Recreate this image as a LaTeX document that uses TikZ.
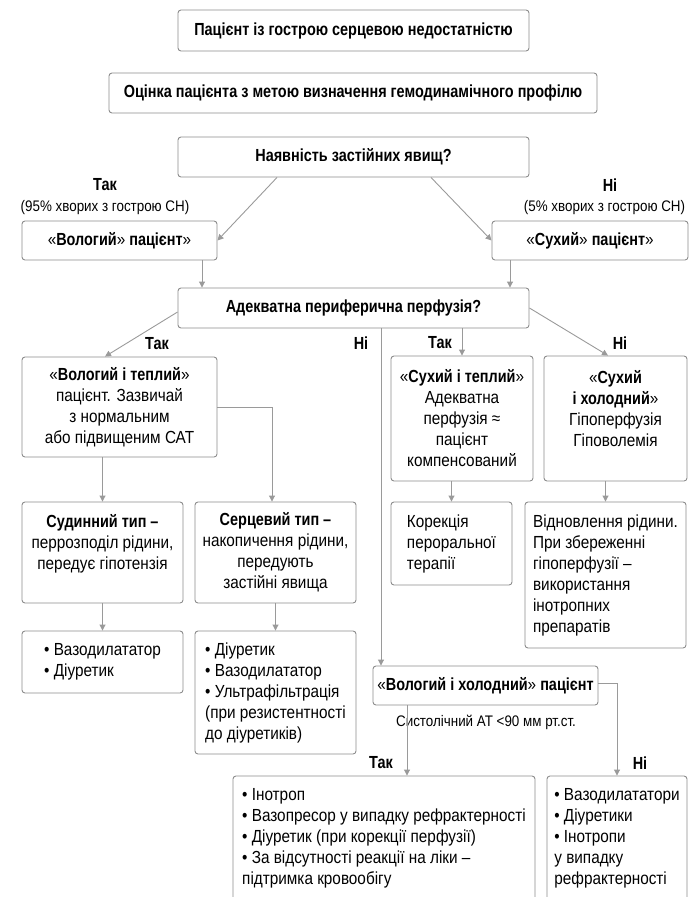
\documentclass[tikz,border=0pt]{standalone}
\usepackage{fontspec}
\setmainfont{Liberation Sans}[FakeStretch=0.875,BoldFeatures={FakeStretch=0.825}]
\usetikzlibrary{arrows.meta}
\definecolor{boxgray}{HTML}{8C8C8C}
\definecolor{arrgray}{HTML}{9A9A9A}
\newcommand{\qopen}{{\mdseries«}}
\newcommand{\qclose}{{\mdseries»}}
\tikzset{
  box/.style={draw=boxgray, line width=0.9pt, rounded corners=3pt, align=center,
    inner sep=0pt, font=\fontsize{17.5}{21}\selectfont},
  head/.style={box, font=\fontsize{17.5}{21}\selectfont\bfseries},
  list/.style={box, align=left},
  arr/.style={draw=arrgray, line width=0.9pt, -{Triangle[width=6pt,length=6pt]}},
  lbl/.style={font=\fontsize{17.5}{21}\selectfont\bfseries},
  note/.style={font=\fontsize{15.3}{18}\selectfont}
}
\begin{document}
\begin{tikzpicture}[x=1pt,y=-1pt]
\useasboundingbox (0,0) rectangle (698,897);
\clip (0,0) rectangle (698,897);

% head of the chart
\node[head, minimum width=351pt, minimum height=41pt] (start) at (353.5,30.5) {Пацієнт із гострою серцевою недостатністю};
\node[head, minimum width=488pt, minimum height=40pt] (assess) at (353,93) {Оцінка пацієнта з метою визначення гемодинамічного профілю};
\node[head, minimum width=351pt, minimum height=40pt] (q1) at (353.5,157) {Наявність застійних явищ?};

\node[lbl] (yes1) at (105,185) {Так};
\node[note] (yes1n) at (105,208) {(95\% хворих з гострою СН)};
\node[lbl] (no1) at (610,185) {Ні};
\node[note] (no1n) at (604.5,208) {(5\% хворих з гострою СН)};

\node[head, minimum width=195pt, minimum height=39pt] (wet) at (119.5,240.5) {\qopen Вологий\qclose{} пацієнт\qclose};
\node[head, minimum width=196pt, minimum height=39pt] (dry) at (590,240.5) {\qopen Сухий\qclose{} пацієнт\qclose};

\node[head, minimum width=351pt, minimum height=40pt] (q2) at (353.5,308) {Адекватна периферична перфузія?};

\node[lbl] (yes2) at (157,344) {Так};
\node[lbl] (no2) at (361,343) {Ні};
\node[lbl] (yes3) at (440,343) {Так};
\node[lbl] (no3) at (620,343) {Ні};

% four profiles
\node[box, minimum width=195pt, minimum height=100pt] (wetwarm) at (119.5,407)
  {\textbf{\qopen Вологий і теплий\qclose}\\ пацієнт. Зазвичай\\ з нормальним\\ або підвищеним САТ};
\node[box, minimum width=142pt, minimum height=125pt] (drywarm) at (462,418.5)
  {\textbf{\qopen Сухий і теплий\qclose}\\ Адекватна\\ перфузія ≈\\ пацієнт\\ компенсований};
\node[box, minimum width=143pt, minimum height=125pt] (drycold) at (615.5,418.5)
  {\textbf{\qopen Сухий}\\ \textbf{і холодний\qclose}\\ Гіпоперфузія\\ Гіповолемія\\ \mbox{}};

\node[box, minimum width=161pt, minimum height=101pt] (vasc) at (102.5,552.5)
  {\textbf{Судинний тип –}\\ перрозподіл рідини,\\ передує гіпотензія\\ \mbox{}};
\node[box, minimum width=161pt, minimum height=101pt] (card) at (275.5,552.5)
  {\textbf{Серцевий тип –}\\ накопичення рідини,\\ передують\\ застійні явища};
\node[list, minimum width=121pt, minimum height=83pt] (korek) at (451.5,543.5)
  {Корекція\\ пероральної\\ терапії};
\node[list, minimum width=161pt, minimum height=146pt] (vidnov) at (605.5,575)
  {Відновлення рідини.\\ При збереженні\\ гіпоперфузії –\\ використання\\ інотропних\\ препаратів};

% treatment
\node[list, minimum width=161pt, minimum height=62pt] (vascrx) at (102.5,662)
  {• Вазодилататор\\ • Діуретик};
\node[list, minimum width=161pt, minimum height=123pt] (cardrx) at (275.5,692.5)
  {• Діуретик\\ • Вазодилататор\\ • Ультрафільтрація\\ (при резистентності\\ до діуретиків)};

\node[head, minimum width=225pt, minimum height=39pt] (wetcold) at (485.5,685.5) {\qopen Вологий і холодний\qclose{} пацієнт};
\node[note] (sbp) at (486,722) {Систолічний АТ <90 мм рт.ст.};
\node[lbl] (yes4) at (381,763) {Так};
\node[lbl] (no4) at (640,763) {Ні};

\node[list, minimum width=302pt, minimum height=125pt] (yesrx) at (384,838.5)
  {• Інотроп\\ • Вазопресор у випадку рефрактерності\\ • Діуретик (при корекції перфузії)\\ • За відсутності реакції на ліки –\\ підтримка кровообігу};
\node[list, minimum width=140pt, minimum height=125pt] (norx) at (617,838.5)
  {• Вазодилататори\\ • Діуретики\\ • Інотропи\\ у випадку\\ рефрактерності};

% connectors
\draw[arr] ([xshift=-76.5pt]q1.south) -- (wet.east);
\draw[arr] ([xshift=77.5pt]q1.south) -- (dry.west);
\draw[arr] ([xshift=82.5pt]wet.south) -- ([xshift=82.5pt]wet.south |- q2.north);
\draw[arr] ([xshift=-80pt]dry.south) -- ([xshift=-80pt]dry.south |- q2.north);
\draw[arr] ([yshift=-4pt]q2.west) -- ([xshift=-14.5pt]wetwarm.north);
\draw[arr] ([xshift=-104.5pt]wetcold.north |- q2.south) -- ([xshift=-104.5pt]wetcold.north);
\draw[arr] (drywarm.north |- q2.south) -- (drywarm.north);
\draw[arr] (q2.east) -- ([xshift=-7.5pt]drycold.north);
\draw[arr] (vasc.north |- wetwarm.south) -- (vasc.north);
\draw[arr] (wetwarm.east) -| ([xshift=-3.5pt]card.north);
\draw[arr] (vasc.south) -- (vascrx.north);
\draw[arr] (card.south) -- (cardrx.north);
\draw[arr] (korek.north |- drywarm.south) -- (korek.north);
\draw[arr] (vidnov.north |- drycold.south) -- (vidnov.north);
\draw[arr] ([xshift=-78.5pt]wetcold.south) -- ([xshift=-78.5pt]wetcold.south |- yesrx.north);
\draw[arr] ([yshift=2.5pt]wetcold.east) -| (norx.north);
\end{tikzpicture}
\end{document}
